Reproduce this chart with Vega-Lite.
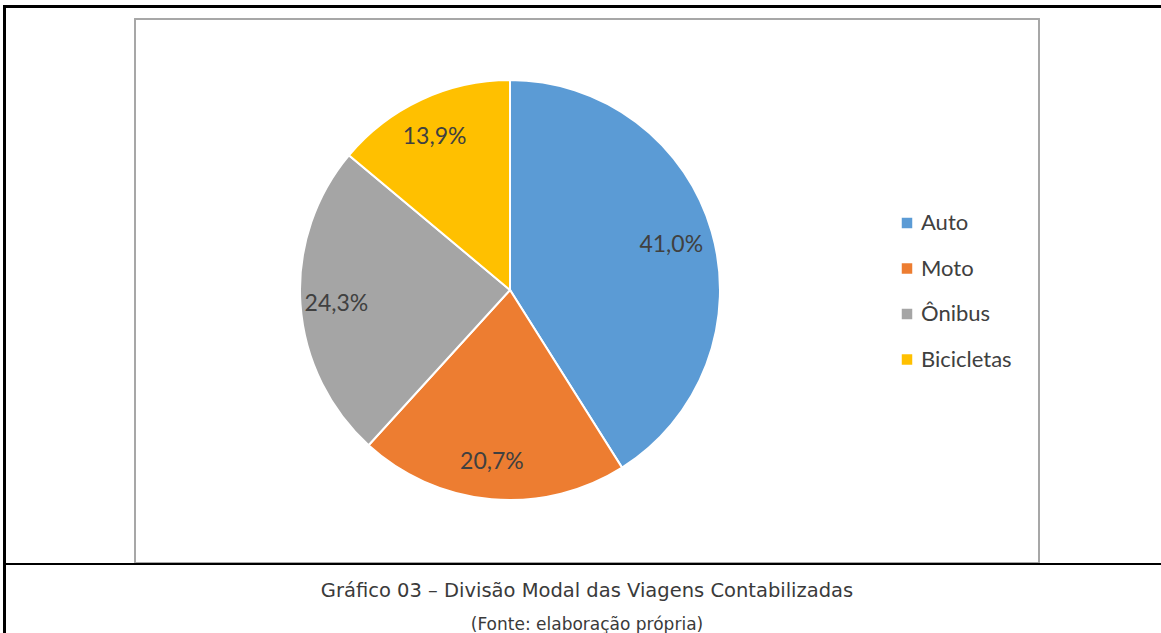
{
  "$schema": "https://vega.github.io/schema/vega-lite/v6.json",
  "width": 904,
  "height": 544,
  "autosize": "none",
  "padding": {"left": 135, "top": 19, "right": 122, "bottom": 70},
  "background": "white",
  "view": {"stroke": null},
  "title": {
    "text": "Gráfico 03 – Divisão Modal das Viagens Contabilizadas",
    "subtitle": "(Fonte: elaboração própria)",
    "orient": "bottom",
    "anchor": "middle",
    "offset": -53,
    "font": "DejaVu Sans",
    "fontSize": 19.5,
    "fontWeight": "normal",
    "color": "#3a3a3a",
    "subtitleFont": "DejaVu Sans",
    "subtitleFontSize": 17,
    "subtitleColor": "#3a3a3a",
    "subtitlePadding": 16
  },
  "data": {
    "values": [
      {"modo": "Auto", "pct": 41.0, "rotulo": "41,0%", "ordem": 1},
      {"modo": "Moto", "pct": 20.7, "rotulo": "20,7%", "ordem": 2},
      {"modo": "Ônibus", "pct": 24.3, "rotulo": "24,3%", "ordem": 3},
      {"modo": "Bicicletas", "pct": 13.9, "rotulo": "13,9%", "ordem": 4}
    ]
  },
  "layer": [
    {
      "mark": {"type": "rect", "fill": null, "stroke": "#a6a6a6", "strokeWidth": 1.5},
      "encoding": {
        "x": {"value": 0},
        "x2": {"value": "width"},
        "y": {"value": 0},
        "y2": {"value": "height"}
      }
    },
    {
      "mark": {"type": "rule", "color": "black", "strokeWidth": 3},
      "encoding": {
        "x": {"value": -131},
        "x2": {"value": 1030},
        "y": {"value": -12.5},
        "y2": {"value": -12.5}
      }
    },
    {
      "mark": {"type": "rule", "color": "black", "strokeWidth": 3},
      "encoding": {
        "x": {"value": -130.5},
        "x2": {"value": -130.5},
        "y": {"value": -14},
        "y2": {"value": 614}
      }
    },
    {
      "mark": {"type": "rule", "color": "black", "strokeWidth": 2},
      "encoding": {
        "x": {"value": -131},
        "x2": {"value": 1030},
        "y": {"value": 545},
        "y2": {"value": 545}
      }
    },
    {
      "mark": {"type": "arc", "outerRadius": 210, "x": 375, "y": 271, "stroke": "white", "strokeWidth": 2},
      "encoding": {
        "theta": {"field": "pct", "type": "quantitative", "stack": true},
        "order": {"field": "ordem", "type": "quantitative"},
        "color": {
          "field": "modo",
          "type": "nominal",
          "sort": ["Auto", "Moto", "Ônibus", "Bicicletas"],
          "scale": {"domain": ["Auto", "Moto", "Ônibus", "Bicicletas"], "range": ["#5b9bd5", "#ed7d31", "#a5a5a5", "#ffc000"]},
          "legend": {
            "title": null,
            "orient": "none",
            "legendX": 761,
            "legendY": 193,
            "symbolType": "square",
            "symbolSize": 110,
            "symbolStrokeWidth": 0,
            "labelFont": "Lato",
            "labelFontSize": 22,
            "labelColor": "#404040",
            "labelOffset": 3,
            "rowPadding": 23.5
          }
        }
      }
    },
    {
      "mark": {"type": "text", "radius": 171, "x": 372, "y": 273, "font": "Lato", "fontSize": 23, "color": "#404040"},
      "encoding": {
        "theta": {"field": "pct", "type": "quantitative", "stack": true},
        "order": {"field": "ordem", "type": "quantitative"},
        "text": {"field": "rotulo", "type": "nominal"}
      }
    }
  ]
}
